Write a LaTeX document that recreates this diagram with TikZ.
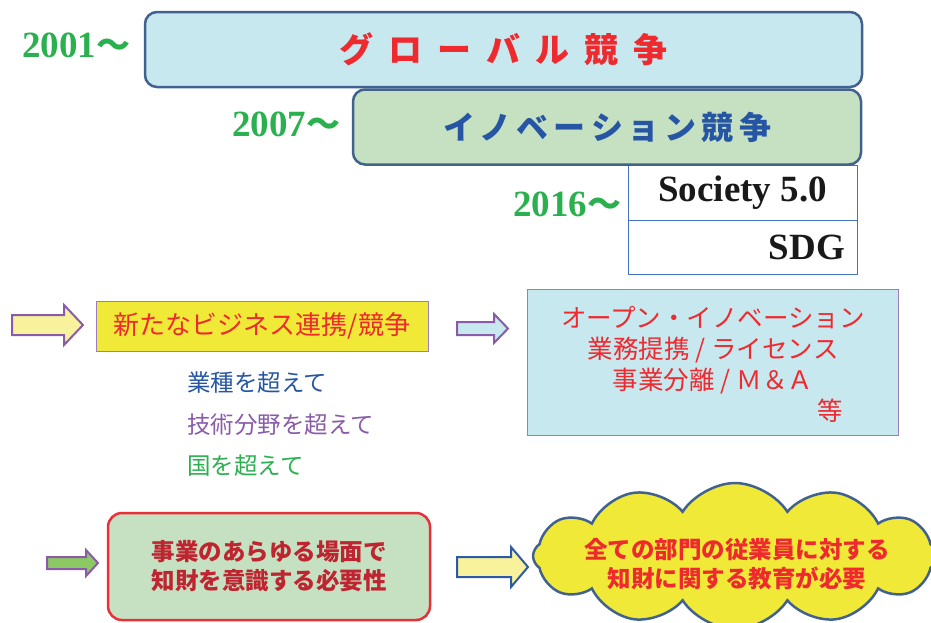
\documentclass[tikz,border=0pt]{standalone}
\usepackage{fontspec}
\setmainfont{Liberation Serif}
\newfontfamily\jp{Noto Sans CJK JP}
\usetikzlibrary{shapes.symbols}
\newcommand\myfs[2]{\fontsize{#1}{#2}\selectfont}
\definecolor{ygreen}{HTML}{2BB04F}
\definecolor{tred}{HTML}{EE2A2F}
\definecolor{tblue}{HTML}{2656A3}
\definecolor{tpurple}{HTML}{8A5BA8}
\definecolor{lblue}{HTML}{C8E8EF}
\definecolor{lgreen}{HTML}{C6E1C1}
\definecolor{dborder}{HTML}{41628F}
\definecolor{byellow}{HTML}{F1E937}
\definecolor{pyellow}{HTML}{F7F29B}
\definecolor{crimson}{HTML}{BE2531}
\definecolor{agreen}{HTML}{8DC963}
\definecolor{sblue}{HTML}{4472C4}
\definecolor{lpurple}{HTML}{9B7EBD}
\definecolor{ablue}{HTML}{2D5AA8}
\definecolor{rborder}{HTML}{E8303A}
\newcommand\barrow[8]{%
  \draw[#8] ({#1},{#4-#5}) -- ({#3},{#4-#5}) -- ({#3},{#4-#6}) -- ({#2},{#4})
    -- ({#3},{#4+#6}) -- ({#3},{#4+#5}) -- ({#1},{#4+#5}) -- cycle;}
\newcommand\myslash{\hspace{6pt}/\hspace{6pt}}
\begin{document}
\begin{tikzpicture}[x=1pt,y=-1pt,
  year/.style={anchor=base west,text=ygreen,font=\bfseries\myfs{37}{37},inner sep=0pt},
  bigbox/.style={draw=dborder,line width=2.5pt,rounded corners=12pt},
  arr/.style={line width=2pt},
  jptxt/.style={font=\jp\myfs{25.5}{31},inner sep=0pt}]
\useasboundingbox (0,0) rectangle (931,622);
% years
\node[year] (y1) at (22,57) {2001{\jp\myfs{34}{34}〜}};
\node[year] (y2) at (232,136) {2007{\jp\myfs{34}{34}〜}};
\node[year] (y3) at (513,216) {2016{\jp\myfs{34}{34}〜}};
% society box
\node[draw=sblue,line width=1pt,minimum width=229pt,minimum height=55pt,fill=white,
  font=\bfseries\myfs{37}{37},text=black!90] (soc) at (742.5,192.5) {Society 5.0};
\node[draw=sblue,line width=1pt,minimum width=229pt,minimum height=54pt,fill=white,
  inner xsep=12pt,text width=205pt,align=right,
  font=\bfseries\myfs{37}{37},text=black!90] (sdg) at (742.5,247) {SDG};
% box 1
\node[bigbox,fill=lblue,minimum width=717pt,minimum height=75pt,text=tred,
  font=\jp\bfseries\myfs{34}{34}] (b1) at (503.5,49.5)
  {グ\kern15ptロ\kern15ptー\kern15ptバ\kern15ptル\kern15pt競\kern15pt争};
% box 2
\node[bigbox,fill=lgreen,minimum width=508pt,minimum height=75pt,text=tblue,
  font=\jp\bfseries\myfs{32}{32}] (b2) at (607,127)
  {イ\kern5ptノ\kern5ptベ\kern5ptー\kern5ptシ\kern5ptョ\kern5ptン\kern5pt競\kern5pt争};
% middle row
\barrow{12}{83}{64}{325}{10}{20}{}{arr,draw=tpurple,fill=pyellow}
\node[draw=lpurple,line width=1pt,fill=byellow,minimum width=332pt,minimum height=50pt,
  text=tred,font=\jp\myfs{26}{26}] (nb) at (262,326) {新たなビジネス連携/競争};
\barrow{457}{508}{494}{328.5}{6.5}{14.5}{}{arr,draw=tpurple,fill=lblue}
\node[draw=lpurple,line width=1pt,fill=lblue,minimum width=371pt,minimum height=146pt] (ob) at (712.5,362) {};
\node[jptxt,text=tred,align=center] (ot) at (713,350)
  {オープン・イノベーション\\業務提携\myslash ライセンス\\事業分離\myslash Ｍ＆Ａ};
\node[jptxt,text=tred] (etc) at (830,411) {等};
\node[jptxt,anchor=west,text=tblue,font=\jp\myfs{23.5}{23.5}] (l1) at (187,383) {業種を超えて};
\node[jptxt,anchor=west,text=tpurple,font=\jp\myfs{23.5}{23.5}] (l2) at (187,425) {技術分野を超えて};
\node[jptxt,anchor=west,text=ygreen,font=\jp\myfs{23.5}{23.5}] (l3) at (187,466) {国を超えて};
% bottom row
\barrow{47}{98}{86}{563}{6}{13}{}{arr,draw=tpurple,fill=agreen}
\node[draw=rborder,line width=2.5pt,rounded corners=14pt,fill=lgreen,
  minimum width=322pt,minimum height=107pt,align=center,text=crimson,
  font=\jp\bfseries\myfs{23.5}{29}] (bb) at (269,566.5)
  {事業のあらゆる場面で\\知財を意識する必要性};
\barrow{457}{528}{511}{567}{10}{20}{}{arr,draw=ablue,fill=pyellow}
\node[cloud,cloud puffs=12,cloud puff arc=115,aspect=2.7,draw=dborder,line width=2.5pt,
  fill=byellow,minimum width=404pt,minimum height=146pt] (cl) at (735,556) {};
\node[align=center,text=tred,font=\jp\bfseries\myfs{23.5}{29},inner sep=0pt] (ct) at (737,564)
  {全ての部門の従業員に対する\\知財に関する教育が必要};
\end{tikzpicture}
\end{document}
